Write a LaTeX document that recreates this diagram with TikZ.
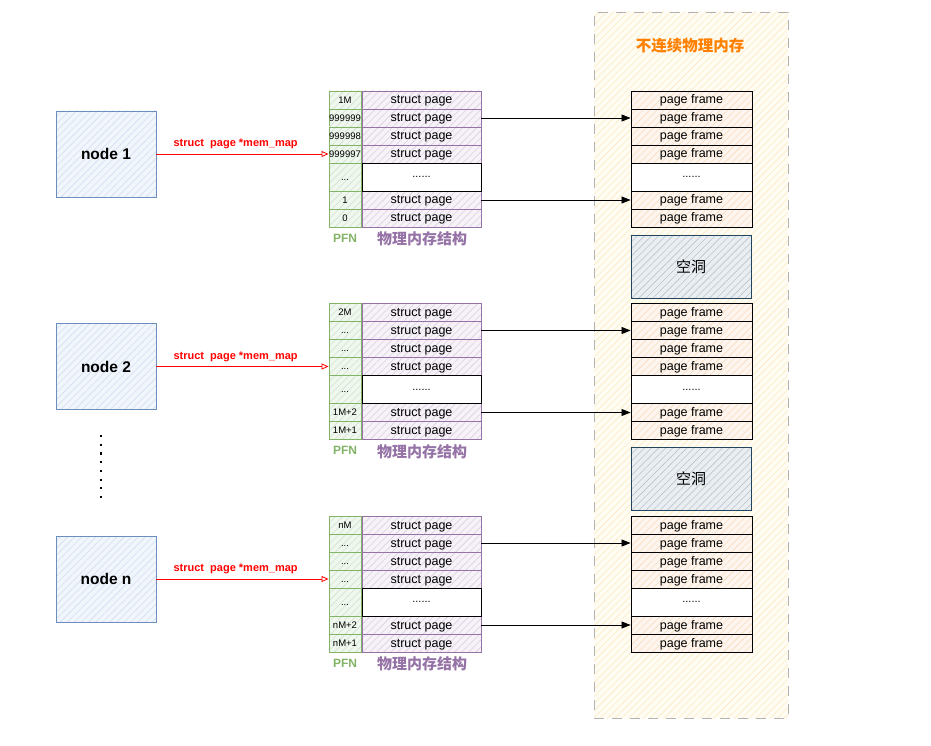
\documentclass[tikz,border=0pt]{standalone}
\usepackage{fontspec}
\setmainfont{Liberation Sans}
\newfontfamily\cjk{Noto Sans CJK SC}
\usetikzlibrary{arrows.meta,patterns.meta}
\newcommand\tdots{...}
\definecolor{nblue}{HTML}{6C8EBF}\definecolor{nbluef}{HTML}{F1F5FC}\definecolor{nblueh}{HTML}{D3DFF2}
\definecolor{purp}{HTML}{9673A6}\definecolor{purpf}{HTML}{F6F2F8}\definecolor{purph}{HTML}{DCCFE3}
\definecolor{grn}{HTML}{82B366}\definecolor{grnf}{HTML}{F0F7EF}\definecolor{grnh}{HTML}{CFE4CD}
\definecolor{pff}{HTML}{FEF6EE}\definecolor{pfh}{HTML}{F8DCC0}
\definecolor{holed}{HTML}{23445D}\definecolor{holef}{HTML}{EAEEF1}\definecolor{holeh}{HTML}{B8C5D0}
\definecolor{regf}{HTML}{FFFCF3}\definecolor{regh}{HTML}{FCEBC2}\definecolor{regd}{HTML}{B3B3B3}
\definecolor{orng}{HTML}{FF8000}
\tikzset{
  x=1pt,y=-1pt,
  sketch/.style n args={3}{preaction={fill=#2},pattern={Lines[angle=45,distance=5pt,line width=0.6pt]},pattern color=#3,draw=#1},
  numa/.style={sketch={nblue}{nbluef}{nblueh},line width=0.9pt,minimum width=100pt,minimum height=86pt,inner sep=0pt,font=\fontsize{15.5}{18}\selectfont\bfseries},
  rowtext/.style={text height=8.5pt,text depth=0.5pt},
  pfnbox/.style={sketch={grn}{grnf}{grnh},line width=0.9pt,minimum width=32pt,minimum height=18pt,inner sep=0pt,font=\fontsize{9.5}{10}\selectfont,text height=6.6pt,text depth=0.5pt},
  spbox/.style={sketch={purp}{purpf}{purph},line width=0.9pt,minimum width=119pt,minimum height=18pt,inner sep=0pt,font=\fontsize{12.5}{14}\selectfont,rowtext},
  pfbox/.style={sketch={black}{pff}{pfh},line width=0.9pt,minimum width=121pt,minimum height=18pt,inner sep=0pt,font=\fontsize{12.5}{14}\selectfont,rowtext},
  gapw/.style={draw=black,fill=white,line width=0.8pt,minimum height=28pt,inner sep=0pt,font=\fontsize{11}{12}\selectfont},
  holebox/.style={sketch={holed}{holef}{holeh},line width=0.8pt,minimum width=120pt,minimum height=63pt,inner sep=0pt,font=\cjk\fontsize{15}{17}\selectfont},
  ptr/.style={draw=red,line width=0.8pt,-{Triangle[open,length=7pt,width=6pt]}},
  maparrow/.style={draw=black,line width=0.8pt,-{Triangle[length=9pt,width=7pt]}},
  redlbl/.style={text=red,font=\fontsize{11}{12}\selectfont\bfseries},
}
\begin{document}
\begin{tikzpicture}
\useasboundingbox (0,0) rectangle (931,746);
% region
\node[sketch={regd}{regf}{regh},dash pattern=on 10pt off 8pt,line width=0.9pt,minimum width=194pt,minimum height=706pt,inner sep=0pt] (region) at (691,365) {};
\node[text=orng,font=\cjk\fontsize{15.5}{17}\selectfont\bfseries] (title) at (690,46) {不连续物理内存};
\foreach \g/\o/\nm/\la/\lb/\lc/\ld/\lf/\lh in {1/0/node 1/1M/999999/999998/999997/1/0, 2/212.5/node 2/2M/\tdots/\tdots/\tdots/1M+2/1M+1, 3/425/node n/nM/\tdots/\tdots/\tdots/nM+2/nM+1}{
  \node[numa] (n\g) at (106,154+\o) {\nm};
  % rows
  \foreach \r/\y/\t in {1/100/\la,2/118/\lb,3/136/\lc,4/154/\ld,6/200/\lf,7/218/\lh}{
    \node[pfnbox] (p\g-\r) at (345,\y+\o) {\t};
    \node[spbox] (s\g-\r) at (421.5,\y+\o) {struct page};
    \node[pfbox] (f\g-\r) at (691.5,\y+\o) {page frame};
  }
  \node[pfnbox,minimum height=28pt] (p\g-5) at (345,177+\o) {\tdots};
  \node[gapw,minimum width=119pt] (s\g-5) at (421.5,177+\o) {......};
  \node[gapw,minimum width=121pt] (f\g-5) at (691.5,177+\o) {......};
  \node[text=grn,font=\fontsize{12}{14}\selectfont\bfseries] (pl\g) at (345,238+\o) {PFN};
  \node[text=purp,font=\cjk\fontsize{15}{17}\selectfont\bfseries] (sl\g) at (422,239+\o) {物理内存结构};
  \draw[ptr] (n\g.east) -- node[redlbl,above=1pt,pos=0.46] {struct\ \ page *mem\_map} (p\g-4.west);
  \draw[maparrow] (s\g-2.east) -- (f\g-2.west);
  \draw[maparrow] (s\g-6.east) -- (f\g-6.west);
}
\node[holebox] (h1) at (691,266.5) {空洞};
\node[holebox] (h2) at (691,479) {空洞};
\coordinate (d1) at (101,435);
\coordinate (d2) at (101,501);
\draw[line width=2.2pt,dash pattern=on 2.2pt off 6.5pt] (d1) -- (d2);
\end{tikzpicture}
\end{document}
